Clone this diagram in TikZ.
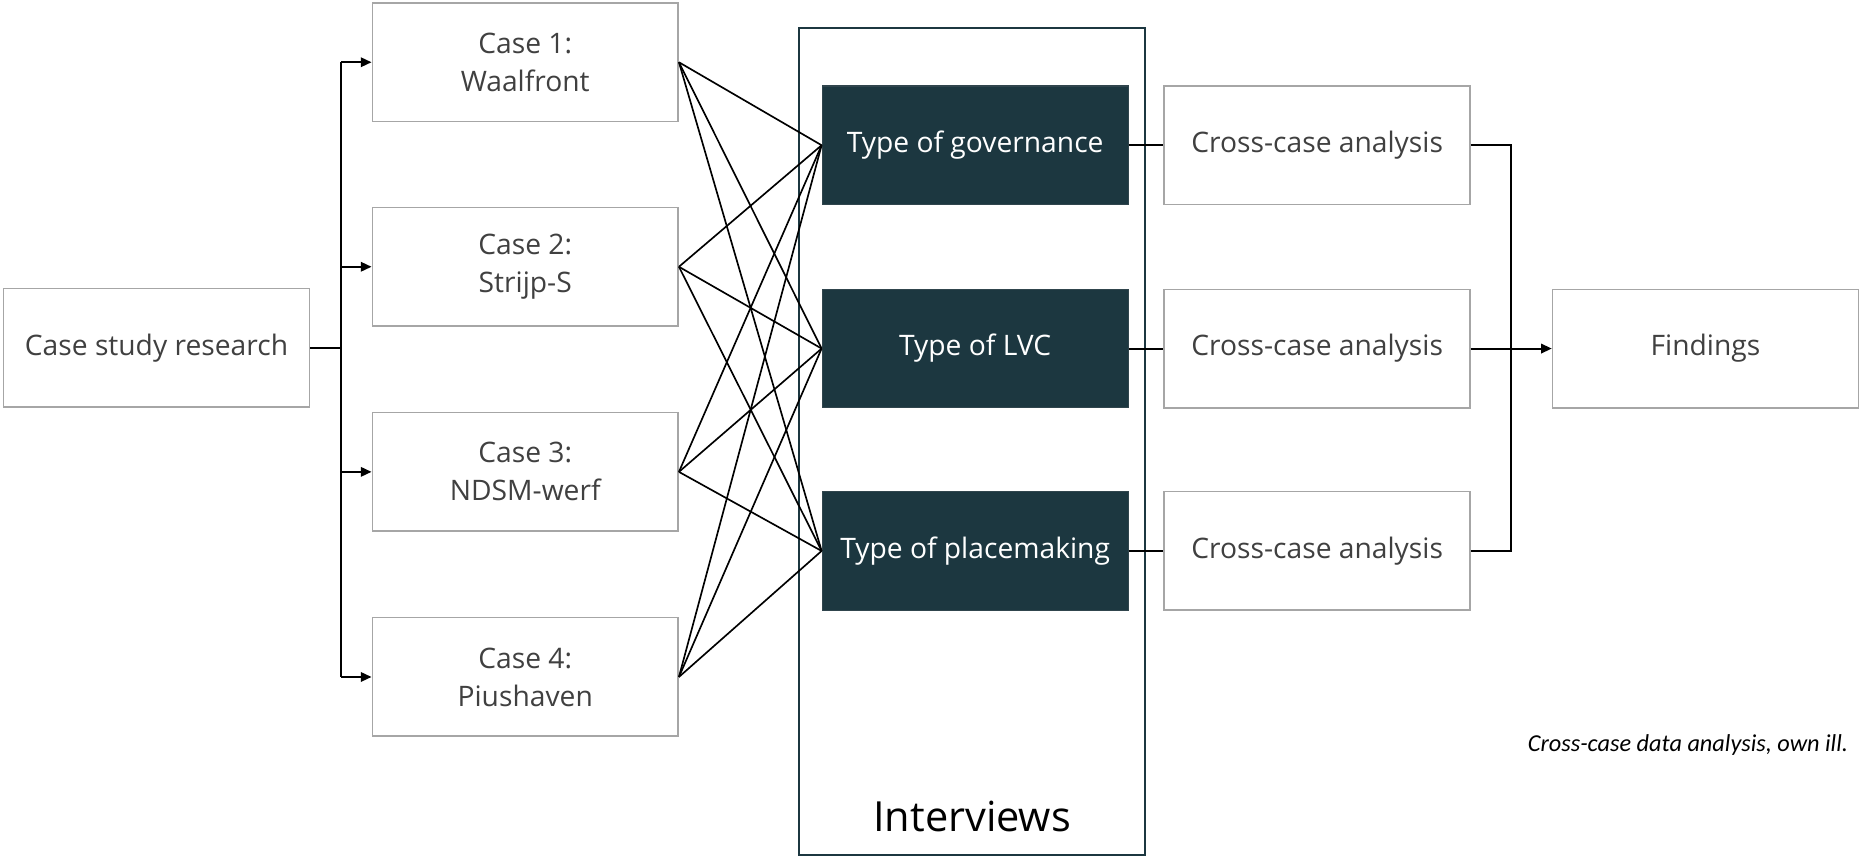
\documentclass[tikz,border=0pt]{standalone}
\usepackage{fontspec}
\setmainfont{Open Sans}
\newfontfamily\capfont{Carlito}
\usetikzlibrary{arrows.meta}
\definecolor{darkteal}{HTML}{1C3740}
\definecolor{boxgray}{HTML}{A6A6A6}
\definecolor{txtgray}{HTML}{404040}
\tikzset{
  wbox/.style={draw=boxgray, line width=1.3pt, fill=white, minimum width=258pt, minimum height=100pt,
    text=txtgray, align=center, inner sep=0pt, font=\fontsize{23.8}{32}\selectfont},
  dbox/.style={draw=darkteal!80!gray, line width=1pt, fill=darkteal, minimum width=258pt, minimum height=100pt,
    text=white, align=center, inner sep=0pt, font=\fontsize{23.8}{32}\selectfont},
  conn/.style={line width=1.6pt, black},
  fan/.style={line width=1.4pt, black},
  arr/.style={conn, -{Triangle[length=9pt,width=8pt]}, shorten >=0pt},
}
\begin{document}
\begin{tikzpicture}[x=1pt,y=-1pt]
\useasboundingbox (0,0) rectangle (1568,723);
% Interviews frame
\node[draw=darkteal, line width=1.6pt, minimum width=292pt, minimum height=698pt, inner sep=0pt] (iv) at (820,372.5) {};
\node[font=\fontsize{35}{38}\selectfont, text=black] (ivlab) at (820,689) {Interviews};
% left
\node[wbox] (csr) at (132,293.5) {Case study research};
\node[wbox] (c1) at (443,52.5) {Case 1:\\Waalfront};
\node[wbox] (c2) at (443,225) {Case 2:\\Strijp-S};
\node[wbox] (c3) at (443,398) {Case 3:\\NDSM-werf};
\node[wbox] (c4) at (443,571) {Case 4:\\Piushaven};
% dark
\node[dbox] (g) at (822.5,122.5) {Type of governance};
\node[dbox] (l) at (822.5,294) {Type of LVC};
\node[dbox] (p) at (822.5,464.7) {Type of placemaking};
% cross-case
\node[wbox] (x1) at (1111,122.5) {Cross-case analysis};
\node[wbox] (x2) at (1111,294) {Cross-case analysis};
\node[wbox] (x3) at (1111,464.7) {Cross-case analysis};
\node[wbox] (fd) at (1438.5,294) {Findings};
% caption
\node[anchor=east, font=\capfont\itshape\fontsize{20.5}{24}\selectfont, text=black, inner sep=0pt] (cap) at (1559,628) {Cross-case data analysis, own ill.};
% branch from case study research
\coordinate (j) at (287.5,293.5);
\draw[conn] (csr.east) -- (j);
\draw[conn] (j |- c1.west) -- (j |- c4.west);
\foreach \c in {c1,c2,c3,c4} { \draw[arr] (j |- \c.west) -- (\c.west); }
% fan
\foreach \c in {c1,c2,c3,c4} { \foreach \t in {g,l,p} { \draw[fan] (\c.east) -- (\t.west); } }
% dark -> cross-case
\draw[conn] (g.east) -- (x1.west);
\draw[conn] (l.east) -- (x2.west);
\draw[conn] (p.east) -- (x3.west);
% merge
\coordinate (k) at (1274.5,294);
\draw[conn] (x1.east) -- (x1.east -| k) -- (x3.east -| k) -- (x3.east);
\draw[arr] (x2.east) -- (fd.west);
\end{tikzpicture}
\end{document}
